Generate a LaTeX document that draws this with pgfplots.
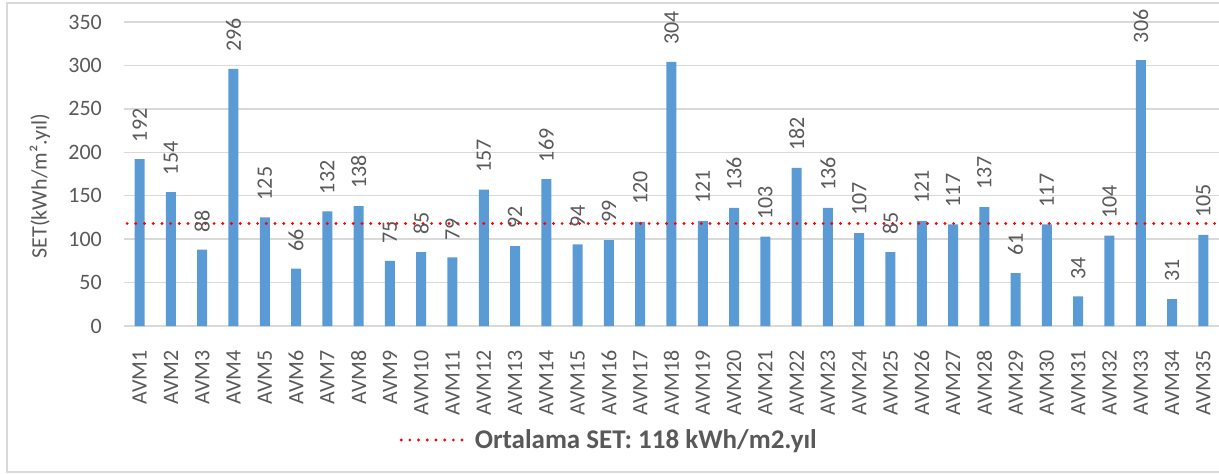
\documentclass[border=0pt]{standalone}
\usepackage{pgfplots}
\pgfplotsset{compat=1.18}
\usepackage{fontspec}
\setmainfont{Carlito}
\definecolor{barblue}{HTML}{5B9BD5}
\definecolor{txtgray}{HTML}{595959}
\definecolor{gridgray}{HTML}{D9D9D9}
\newcommand\cf{\fontsize{22}{26.4}\selectfont}
\newcommand\lf{\fontsize{27}{32}\selectfont}
\begin{document}
\begin{tikzpicture}[x=1pt,y=1pt]
\useasboundingbox (-124,-148) rectangle (1095,326);
\draw[gridgray, line width=1.5pt] (-117,-146) rectangle (1110,323);
\begin{axis}[
  at={(0,0)}, anchor=south west,
  scale only axis,
  width=1095pt, height=304pt,
  xmin=0.5, xmax=35.5,
  ymin=0, ymax=350,
  ytick={0,50,...,350},
  xtick={1,...,35},
  xticklabels={AVM1,AVM2,AVM3,AVM4,AVM5,AVM6,AVM7,AVM8,AVM9,AVM10,AVM11,AVM12,AVM13,AVM14,AVM15,AVM16,AVM17,AVM18,AVM19,AVM20,AVM21,AVM22,AVM23,AVM24,AVM25,AVM26,AVM27,AVM28,AVM29,AVM30,AVM31,AVM32,AVM33,AVM34,AVM35},
  /pgf/number format/assume math mode=true,
  axis line style={draw=none},
  major tick length=0pt,
  ymajorgrids,
  grid style={gridgray, line width=1.5pt},
  ticklabel style={font=\cf, text=txtgray, inner sep=0pt},
  xticklabel style={rotate=90, anchor=east},
  xticklabel shift=24pt,
  yticklabel shift=22pt,
  ylabel={SET(kWh/m².yıl)},
  every axis y label/.style={at={(axis description cs:-0.0767,0.46)}, rotate=90, anchor=center, font=\cf, text=txtgray},
  clip=false,
  legend style={at={(axis description cs:0.444,-0.375)}, anchor=center, draw=none, fill=none, font=\lf\bfseries, text=txtgray, inner sep=0pt,
    nodes={inner xsep=4pt}},
  legend image code/.code={\draw[#1] (0pt,0pt) -- (68pt,0pt);},
]
\addplot[ybar, bar width=10pt, fill=barblue, draw=none,
  nodes near coords,
  every node near coord/.style={rotate=90, anchor=west, font=\cf, text=txtgray, inner xsep=17pt, inner ysep=0pt},
  forget plot]
coordinates {
(1,192)(2,154)(3,88)(4,296)(5,125)(6,66)(7,132)(8,138)(9,75)(10,85)
(11,79)(12,157)(13,92)(14,169)(15,94)(16,99)(17,120)(18,304)(19,121)(20,136)
(21,103)(22,182)(23,136)(24,107)(25,85)(26,121)(27,117)(28,137)(29,61)(30,117)
(31,34)(32,104)(33,306)(34,31)(35,105)
};
\addplot[red, line width=3.2pt, line cap=round, dash pattern=on 0pt off 8.7pt]
coordinates {(0.6,118) (35.4,118)};
\addlegendentry{Ortalama SET: 118 kWh/m2.yıl}
\end{axis}
\end{tikzpicture}
\end{document}
